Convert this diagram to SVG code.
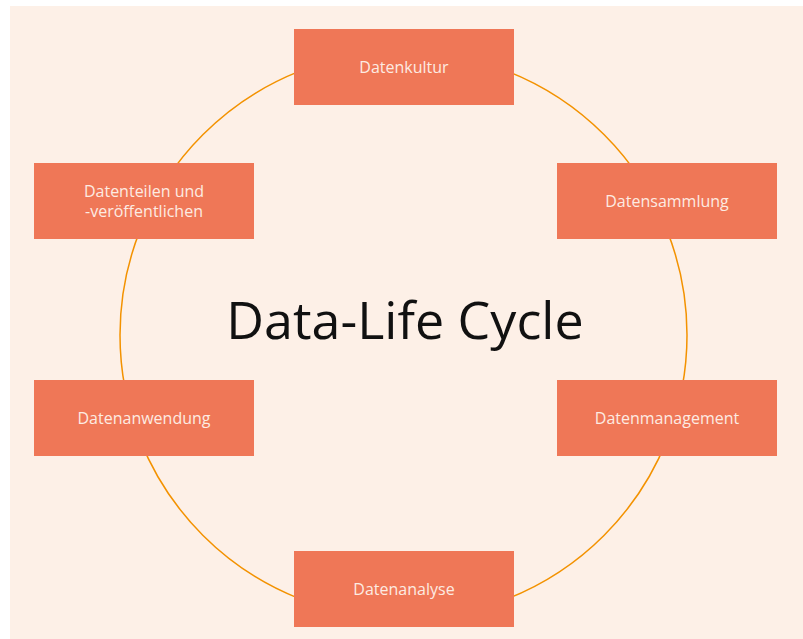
<svg xmlns="http://www.w3.org/2000/svg" width="803" height="639" viewBox="0 0 803 639">
<style>
.box{fill:#ef7757}
.lbl{font-family:"Open Sans","Noto Sans",sans-serif;font-size:16px;fill:#fdebe2;text-anchor:middle}
.title{font-family:"Open Sans","Noto Sans",sans-serif;font-size:52px;fill:#111;text-anchor:middle}
</style>
<rect x="0" y="0" width="803" height="639" fill="#ffffff"/>
<rect x="10" y="6" width="793" height="633" fill="#fdf0e7"/>
<g id="connectors">
<circle cx="403.5" cy="335" r="283.5" fill="none" stroke="#f39200" stroke-width="1.5"/>
</g>
<text class="title" x="405" y="339">Data-Life Cycle</text>
<g id="datenkultur"><rect class="box" x="294" y="29" width="220" height="76"/><text class="lbl" x="404" y="73">Datenkultur</text></g>
<g id="datensammlung"><rect class="box" x="557" y="163" width="220" height="76"/><text class="lbl" x="667" y="207">Datensammlung</text></g>
<g id="datenmanagement"><rect class="box" x="557" y="380" width="220" height="76"/><text class="lbl" x="667" y="424">Datenmanagement</text></g>
<g id="datenanalyse"><rect class="box" x="294" y="551" width="220" height="76"/><text class="lbl" x="404" y="595">Datenanalyse</text></g>
<g id="datenanwendung"><rect class="box" x="34" y="380" width="220" height="76"/><text class="lbl" x="144" y="424">Datenanwendung</text></g>
<g id="datenteilen"><rect class="box" x="34" y="163" width="220" height="76"/><text class="lbl" x="144" y="197">Datenteilen und</text><text class="lbl" x="144" y="217">-veröffentlichen</text></g>
</svg>
